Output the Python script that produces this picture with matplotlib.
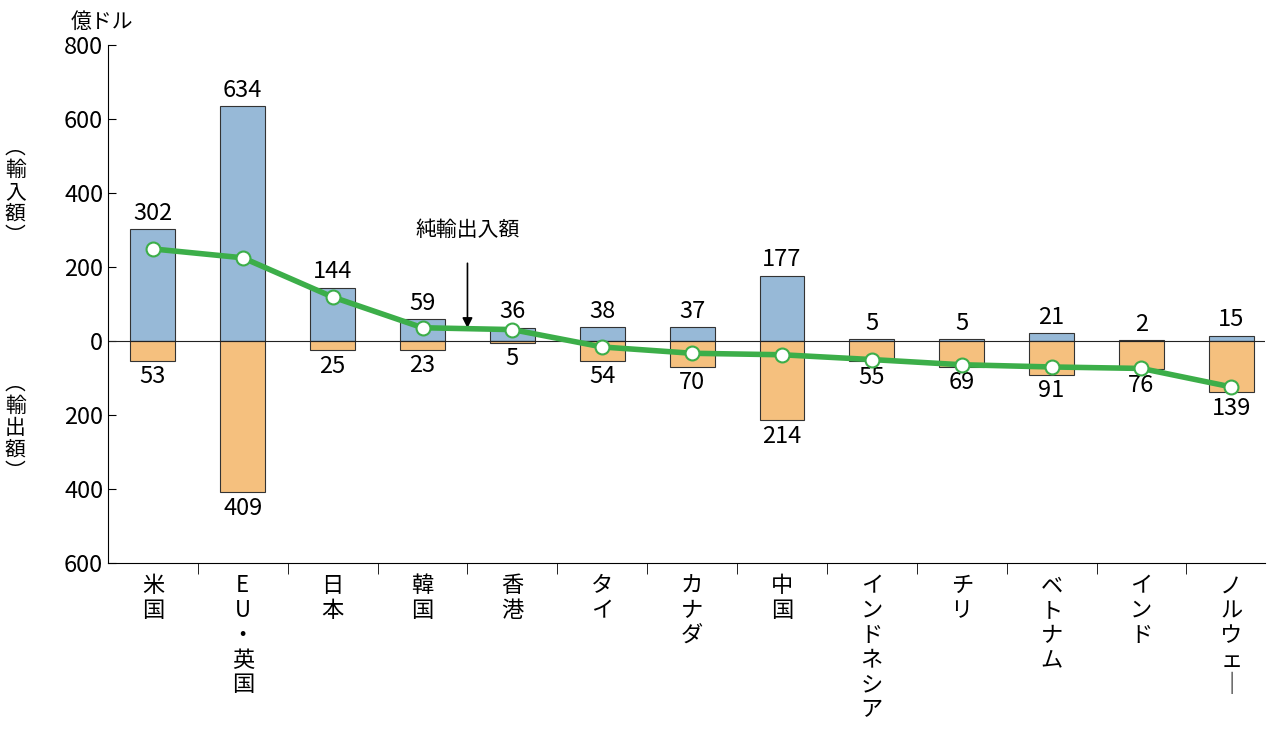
import matplotlib
matplotlib.use("Agg")
import matplotlib.pyplot as plt
import numpy as np

plt.rcParams["font.family"] = "Noto Sans CJK JP"

categories = ["米国", "EU・英国", "日本", "韓国", "香港", "タイ", "カナダ", "中国",
              "インドネシア", "チリ", "ベトナム", "インド", "ノルウェー"]
imports = [302, 634, 144, 59, 36, 38, 37, 177, 5, 5, 21, 2, 15]
exports = [53, 409, 25, 23, 5, 54, 70, 214, 55, 69, 91, 76, 139]
yticks = [800, 600, 400, 200, 0, -200, -400, -600]

imp = np.array(imports)
exp_ = np.array(exports)
net = imp - exp_
x = np.arange(len(categories))

fig = plt.figure(figsize=(12.78, 7.38), dpi=100)
ax = fig.add_axes([0.0845, 0.237, 0.905, 0.702])

ax.bar(x, imp, width=0.5, color="#97b9d7", edgecolor="#333333", linewidth=0.8)
ax.bar(x, -exp_, width=0.5, color="#f5c07e", edgecolor="#333333", linewidth=0.8)
ax.axhline(0, color="#222222", linewidth=0.8)
ax.plot(x, net, color="#3cae49", linewidth=4, marker="o", markersize=10,
        markerfacecolor="white", markeredgecolor="#3cae49", markeredgewidth=1.5, zorder=5)

for xi, v in zip(x, imp):
    ax.text(xi, v + 12, str(v), ha="center", va="bottom", fontsize=17)
for xi, v in zip(x, exp_):
    ax.text(xi, -v - 12, str(v), ha="center", va="top", fontsize=17)

ax.annotate("純輸出入額", xy=(3.5, 35), xytext=(3.5, 300), ha="center", va="center",
            fontsize=15, arrowprops=dict(arrowstyle="-|>", color="black", lw=1.2,
                                         shrinkA=14, shrinkB=0))

ax.set_xlim(-0.5, 12.37)
ax.set_ylim(-600, 800)
ax.set_yticks(yticks)
ax.set_yticklabels([str(abs(t)) for t in yticks], fontsize=17)
ax.tick_params(axis="y", direction="in", length=6)
ax.set_xticks(x)
ax.set_xticklabels(["\n".join(c.replace("ー", "｜")) for c in categories],
                   fontsize=16, va="top", linespacing=1.1)
ax.tick_params(axis="x", length=0, pad=8)
ax.set_xticks(np.arange(0.5, 12, 1), minor=True)
ax.tick_params(axis="x", which="minor", direction="out", length=8)
ax.spines["top"].set_visible(False)
ax.spines["right"].set_visible(False)

fig.text(0.055, 0.985, "億ドル", fontsize=15, va="top")
fig.text(0.012, 0.74, "︵\n輸\n入\n額\n︶", fontsize=15, va="center", ha="center", linespacing=1.0)
fig.text(0.012, 0.42, "︵\n輸\n出\n額\n︶", fontsize=15, va="center", ha="center", linespacing=1.0)

fig.savefig("out.png")
